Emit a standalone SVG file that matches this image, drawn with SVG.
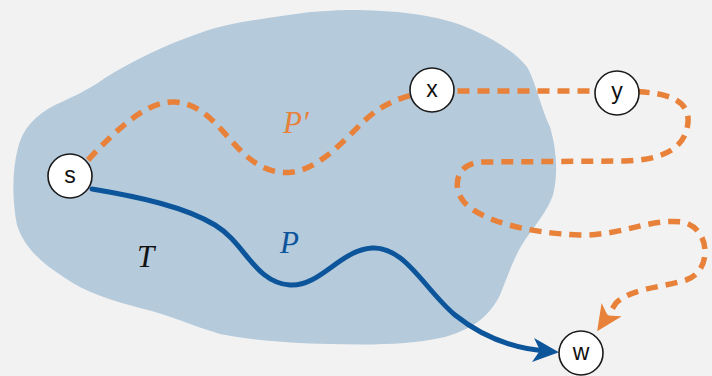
<svg xmlns="http://www.w3.org/2000/svg" width="712" height="376" viewBox="0 0 712 376">
<style>
.node circle{fill:#fff;stroke:#1a1a1a;stroke-width:1.6}
.node text{font-family:"Liberation Sans",Arial,sans-serif;font-size:23px;fill:#111;text-anchor:middle}
.lbl{font-family:"Liberation Serif","Times New Roman",serif;font-style:italic;font-size:31px}
.blue{fill:none;stroke:#0c559b;stroke-width:5;stroke-linecap:round}
.orange{fill:none;stroke:#e8813a;stroke-width:5.5;stroke-dasharray:12 8}
</style>
<defs>
<marker id="ab" viewBox="0 0 26 24" refX="12" refY="12" markerWidth="26" markerHeight="24" markerUnits="userSpaceOnUse" orient="auto">
<path d="M0,0 L26,12 L0,24 L7,12 z" fill="#0c559b"/>
</marker>
<marker id="ao" viewBox="0 0 26 24" refX="10" refY="12" markerWidth="26" markerHeight="24" markerUnits="userSpaceOnUse" orient="auto">
<path d="M0,0 L26,12 L0,24 L7,12 z" fill="#e8813a"/>
</marker>
</defs>
<rect width="712" height="376" fill="#f2f2f2"/>
<path id="blob" fill="#b5cadb" d="M350,10 C390,10 440,14 473,30 C495,40 515,52 527,67 C535,80 540,105 550,127 C557,150 558,175 553,195 C547,212 535,225 525,240 C515,255 510,270 500,295 C490,315 475,328 445,337 C410,345 370,345 330,344 C290,343 250,340 220,334 C190,325 170,315 140,308 C110,300 85,292 65,278 C45,265 25,250 17,225 C12,200 12,170 18,148 C22,130 35,115 55,105 C70,98 85,92 105,78 C130,62 165,45 200,33 C230,22 270,18 310,12 C325,11 340,10 350,10 Z"/>
<g id="connectors">
<path class="orange" d="M88,160 C118,128 148,100 175,102 C205,104 220,130 240,150 C255,165 272,175 293,172 C318,168 340,145 360,125 C375,110 392,97 432,91 L617,91 C655,91 690,95 688,122 C686,150 660,160 625,161 L482,162 C455,163 452,188 464,202 C480,220 525,233 580,235 C620,236 650,218 682,222 C712,228 712,272 686,280 C660,288 632,288 616,303 L606,318" marker-end="url(#ao)"/>
<path class="blue" d="M92,189 C140,197 185,207 215,225 C245,243 255,283 290,285 C320,287 340,250 372,248 C405,246 425,290 455,315 C480,335 510,348 545,351" marker-end="url(#ab)"/>
</g>
<text class="lbl" x="283" y="133" fill="#e8813a">P′</text>
<text class="lbl" x="280" y="253" fill="#0c559b">P</text>
<text class="lbl" x="137" y="267" fill="#111">T</text>
<g id="s" class="node"><circle cx="70" cy="176" r="22"/><text x="70" y="183">s</text></g>
<g id="x" class="node"><circle cx="432" cy="90" r="22"/><text x="432" y="97">x</text></g>
<g id="y" class="node"><circle cx="617" cy="93" r="22"/><text x="617" y="99">y</text></g>
<g id="w" class="node"><circle cx="581" cy="353" r="22"/><text x="581" y="360">w</text></g>
</svg>
